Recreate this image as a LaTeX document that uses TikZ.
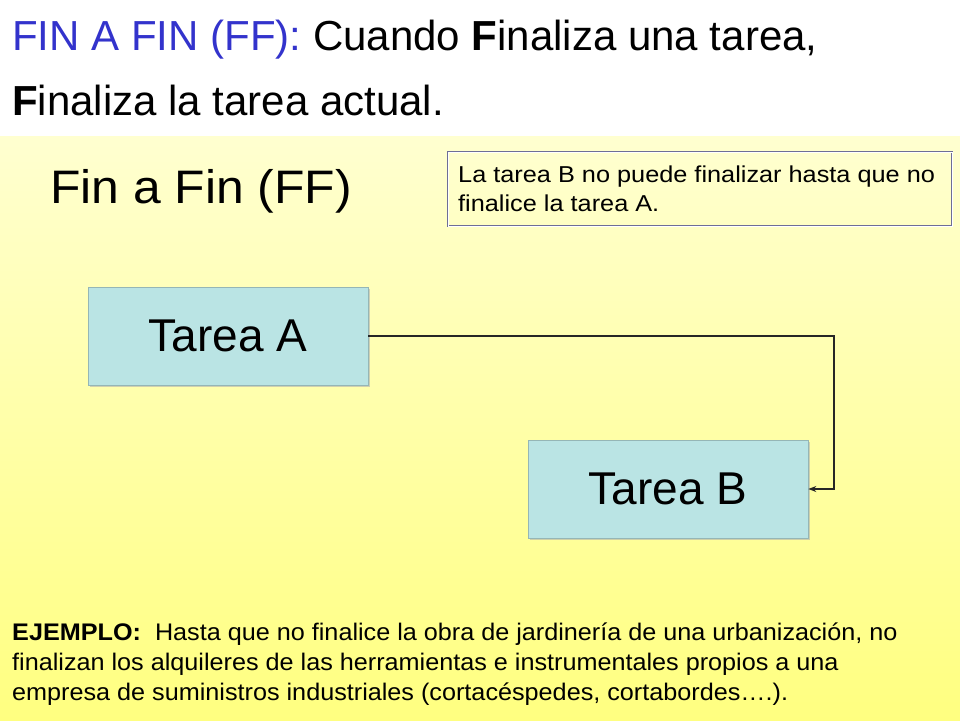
\documentclass[tikz,border=0pt]{standalone}
\usepackage{fontspec}
\setmainfont{Liberation Sans}
\usetikzlibrary{arrows.meta,shadows}
\definecolor{titleblue}{RGB}{51,51,204}
\definecolor{bgtop}{RGB}{255,255,208}
\definecolor{bgbot}{RGB}{255,255,128}
\definecolor{taskfill}{RGB}{186,228,228}
\definecolor{noteframe}{RGB}{110,110,150}
\tikzset{
  taskbox/.style={draw=taskfill!80!black, line width=0.6pt, fill=taskfill, minimum width=280pt, minimum height=98pt, inner sep=0pt,
    font=\fontsize{46}{46}\selectfont, drop shadow={shadow xshift=2pt, shadow yshift=-2pt, fill=black!30, opacity=0.6}},
  notebox/.style={draw=noteframe, double=white, double distance=0.8pt, line width=0.6pt, minimum width=504pt, minimum height=74pt, inner sep=0pt},
  conn/.style={line width=1.3pt, draw=black!85, -{Stealth[length=8pt,width=6pt]}},
  txt/.style={anchor=base west, inner sep=0pt}
}
\begin{document}
\begin{tikzpicture}[x=1pt,y=-1pt]
\useasboundingbox (0,0) rectangle (960,720);
\fill[white] (0,0) rectangle (960,720);
\shade[top color=bgtop, bottom color=bgbot] (0,136) rectangle (960,720);
% title
\node[txt] (t1) at (12,50) {\scalebox{1.0}[1]{\fontsize{42}{42}\selectfont\color{titleblue}FIN A FIN (FF): \color{black}Cuando \textbf{F}inaliza una tarea,}};
\node[txt] (t2) at (12,115) {\scalebox{1.0}[1]{\fontsize{42}{42}\selectfont\textbf{F}inaliza la tarea actual.}};
% heading
\node[txt] (h) at (50,203) {\scalebox{1.06}[1]{\fontsize{47}{47}\selectfont Fin a Fin (FF)}};
% note
\node[notebox] (note) at (700,189) {};
\node[txt] (n1) at (458,182) {\scalebox{1.1}[1]{\fontsize{23}{23}\selectfont La tarea B no puede finalizar hasta que no}};
\node[txt] (n2) at (458,211) {\scalebox{1.1}[1]{\fontsize{23}{23}\selectfont finalice la tarea A.}};
% tasks
\node[taskbox] (A) at (228,336) {Tarea A};
\node[taskbox] (B) at (668,489) {Tarea B};
\coordinate (c1) at (834,336);
\draw[conn] (A.east) -- (c1) |- (B.east);
% example
\node[txt] (e1) at (12,640) {\scalebox{1.05}[1]{\fontsize{24}{24}\selectfont\textbf{EJEMPLO:}\ \ Hasta que no finalice la obra de jardinería de una urbanización, no}};
\node[txt] (e2) at (12,670) {\scalebox{1.05}[1]{\fontsize{24}{24}\selectfont finalizan los alquileres de las herramientas e instrumentales propios a una}};
\node[txt] (e3) at (12,700) {\scalebox{1.05}[1]{\fontsize{24}{24}\selectfont empresa de suministros industriales (cortacéspedes, cortabordes….).}};
\end{tikzpicture}
\end{document}
